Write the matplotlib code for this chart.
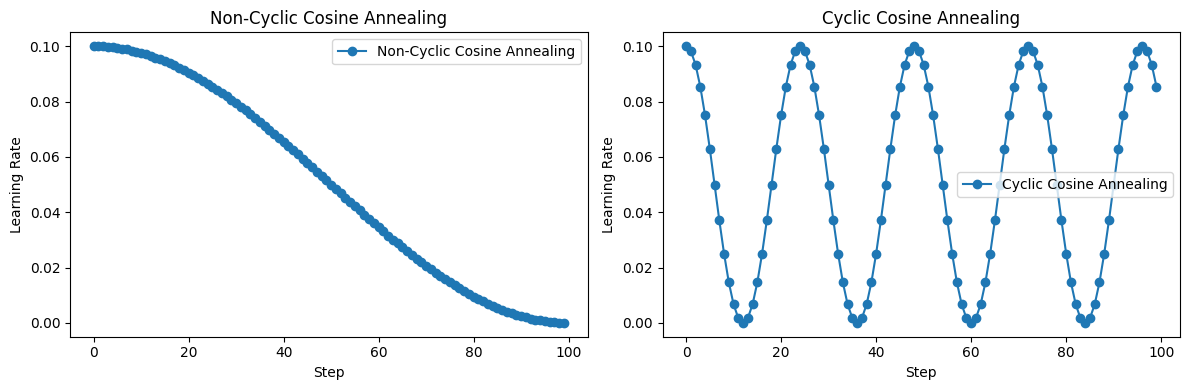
import matplotlib
matplotlib.use("Agg")
import matplotlib.pyplot as plt

steps = list(range(100))

non_cyclic_lr = [
    0.10000, 0.09998, 0.09990, 0.09978, 0.09961, 0.09938, 0.09911, 0.09880, 0.09843, 0.09801,
    0.09755, 0.09704, 0.09649, 0.09589, 0.09524, 0.09455, 0.09382, 0.09304, 0.09222, 0.09135,
    0.09045, 0.08951, 0.08853, 0.08751, 0.08645, 0.08536, 0.08423, 0.08307, 0.08187, 0.08065,
    0.07939, 0.07810, 0.07679, 0.07545, 0.07409, 0.07270, 0.07129, 0.06986, 0.06841, 0.06694,
    0.06545, 0.06395, 0.06243, 0.06091, 0.05937, 0.05782, 0.05627, 0.05471, 0.05314, 0.05157,
    0.05000, 0.04843, 0.04686, 0.04529, 0.04373, 0.04218, 0.04063, 0.03909, 0.03757, 0.03605,
    0.03455, 0.03306, 0.03159, 0.03014, 0.02871, 0.02730, 0.02591, 0.02455, 0.02321, 0.02190,
    0.02061, 0.01935, 0.01813, 0.01693, 0.01577, 0.01464, 0.01355, 0.01249, 0.01147, 0.01049,
    0.00955, 0.00865, 0.00778, 0.00696, 0.00618, 0.00545, 0.00476, 0.00411, 0.00351, 0.00296,
    0.00245, 0.00199, 0.00157, 0.00120, 0.00089, 0.00062, 0.00039, 0.00022, 0.00010, 0.00002,
]

cyclic_lr = [
    0.10000, 0.09830, 0.09330, 0.08536, 0.07500, 0.06294, 0.05000, 0.03706, 0.02500, 0.01464,
    0.00670, 0.00170, 0.00000, 0.00170, 0.00670, 0.01464, 0.02500, 0.03706, 0.05000, 0.06294,
    0.07500, 0.08536, 0.09330, 0.09830,
    0.10000, 0.09830, 0.09330, 0.08536, 0.07500, 0.06294, 0.05000, 0.03706, 0.02500, 0.01464,
    0.00670, 0.00170, 0.00000, 0.00170, 0.00670, 0.01464, 0.02500, 0.03706, 0.05000, 0.06294,
    0.07500, 0.08536, 0.09330, 0.09830,
    0.10000, 0.09830, 0.09330, 0.08536, 0.07500, 0.06294, 0.05000, 0.03706, 0.02500, 0.01464,
    0.00670, 0.00170, 0.00000, 0.00170, 0.00670, 0.01464, 0.02500, 0.03706, 0.05000, 0.06294,
    0.07500, 0.08536, 0.09330, 0.09830,
    0.10000, 0.09830, 0.09330, 0.08536, 0.07500, 0.06294, 0.05000, 0.03706, 0.02500, 0.01464,
    0.00670, 0.00170, 0.00000, 0.00170, 0.00670, 0.01464, 0.02500, 0.03706, 0.05000, 0.06294,
    0.07500, 0.08536, 0.09330, 0.09830,
    0.10000, 0.09830, 0.09330, 0.08536,
]

fig, (ax1, ax2) = plt.subplots(1, 2, figsize=(12, 4), dpi=100)

ax1.plot(steps, non_cyclic_lr, marker='o', label='Non-Cyclic Cosine Annealing')
ax1.set_title('Non-Cyclic Cosine Annealing')
ax1.set_xlabel('Step')
ax1.set_ylabel('Learning Rate')
ax1.legend(loc='upper right')

ax2.plot(steps, cyclic_lr, marker='o', label='Cyclic Cosine Annealing')
ax2.set_title('Cyclic Cosine Annealing')
ax2.set_xlabel('Step')
ax2.set_ylabel('Learning Rate')
ax2.legend(loc='center right')

fig.tight_layout()
fig.savefig('out.png', dpi=100, bbox_inches='tight')
